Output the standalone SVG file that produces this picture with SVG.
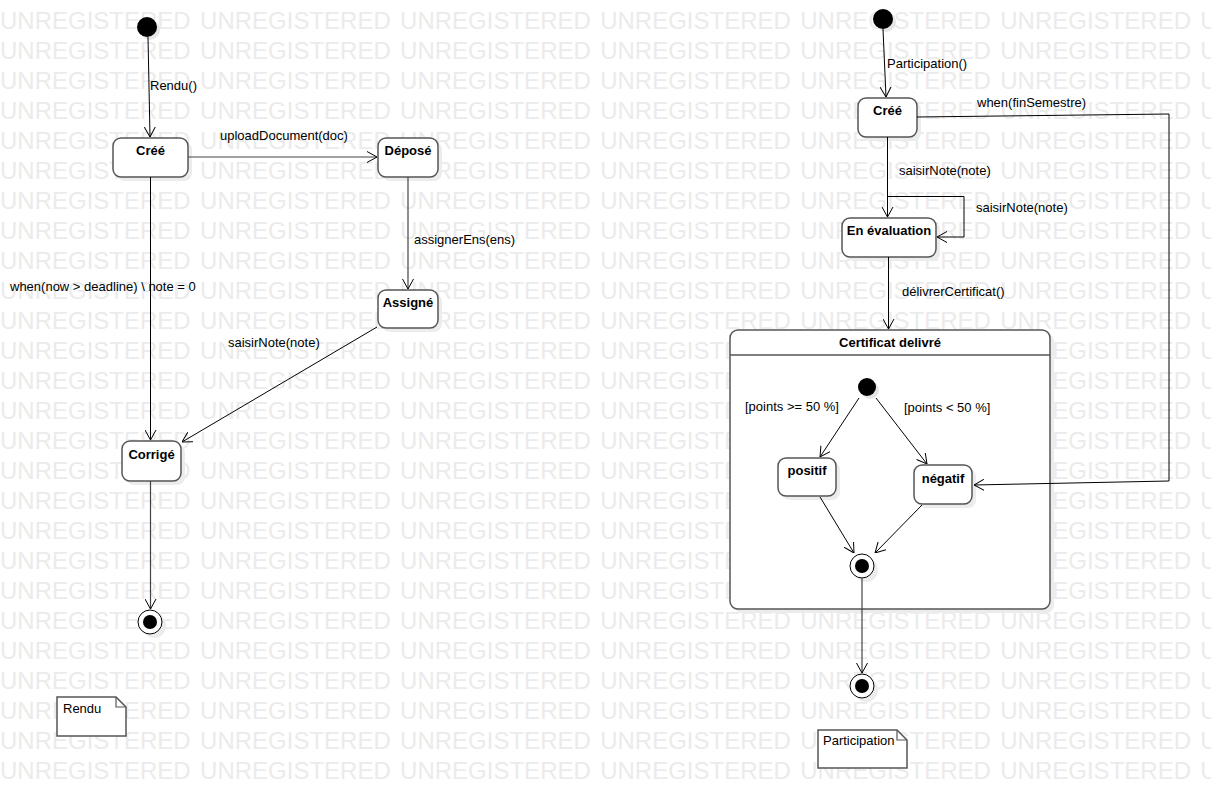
<svg xmlns="http://www.w3.org/2000/svg" width="1211" height="809" viewBox="0 0 1211 809">
<style>
.wm{font-family:"Liberation Sans",Arial,sans-serif;font-size:24px;fill:#ebebeb;word-spacing:2.7px}
.st{fill:#fff;stroke:#555;stroke-width:1.5}
.sh{fill:#ececec;stroke:none}
.nt{font-family:"Liberation Sans",Arial,sans-serif;font-size:13px;font-weight:bold;fill:#000;text-anchor:middle}
.lb{font-family:"Liberation Sans",Arial,sans-serif;font-size:13px;fill:#000}
.ln{fill:none;stroke:#000;stroke-width:1}
.ln2{fill:none;stroke:#444;stroke-width:1.2}
.note{fill:#fff;stroke:#555;stroke-width:1.5}
</style>
<defs>
<marker id="arr" viewBox="0 0 10 12" refX="10" refY="6" markerWidth="10" markerHeight="12" markerUnits="userSpaceOnUse" orient="auto">
<path d="M0,0.5 L10,6 L0,11.5" fill="none" stroke="#000" stroke-width="1"/>
</marker>
</defs>
<rect width="1211" height="809" fill="#fff"/>
<g id="watermark">
<text class="wm" x="0" y="29">UNREGISTERED UNREGISTERED UNREGISTERED UNREGISTERED UNREGISTERED UNREGISTERED UNREGISTERED</text>
<text class="wm" x="0" y="59">UNREGISTERED UNREGISTERED UNREGISTERED UNREGISTERED UNREGISTERED UNREGISTERED UNREGISTERED</text>
<text class="wm" x="0" y="89">UNREGISTERED UNREGISTERED UNREGISTERED UNREGISTERED UNREGISTERED UNREGISTERED UNREGISTERED</text>
<text class="wm" x="0" y="119">UNREGISTERED UNREGISTERED UNREGISTERED UNREGISTERED UNREGISTERED UNREGISTERED UNREGISTERED</text>
<text class="wm" x="0" y="149">UNREGISTERED UNREGISTERED UNREGISTERED UNREGISTERED UNREGISTERED UNREGISTERED UNREGISTERED</text>
<text class="wm" x="0" y="179">UNREGISTERED UNREGISTERED UNREGISTERED UNREGISTERED UNREGISTERED UNREGISTERED UNREGISTERED</text>
<text class="wm" x="0" y="209">UNREGISTERED UNREGISTERED UNREGISTERED UNREGISTERED UNREGISTERED UNREGISTERED UNREGISTERED</text>
<text class="wm" x="0" y="239">UNREGISTERED UNREGISTERED UNREGISTERED UNREGISTERED UNREGISTERED UNREGISTERED UNREGISTERED</text>
<text class="wm" x="0" y="269">UNREGISTERED UNREGISTERED UNREGISTERED UNREGISTERED UNREGISTERED UNREGISTERED UNREGISTERED</text>
<text class="wm" x="0" y="299">UNREGISTERED UNREGISTERED UNREGISTERED UNREGISTERED UNREGISTERED UNREGISTERED UNREGISTERED</text>
<text class="wm" x="0" y="329">UNREGISTERED UNREGISTERED UNREGISTERED UNREGISTERED UNREGISTERED UNREGISTERED UNREGISTERED</text>
<text class="wm" x="0" y="359">UNREGISTERED UNREGISTERED UNREGISTERED UNREGISTERED UNREGISTERED UNREGISTERED UNREGISTERED</text>
<text class="wm" x="0" y="389">UNREGISTERED UNREGISTERED UNREGISTERED UNREGISTERED UNREGISTERED UNREGISTERED UNREGISTERED</text>
<text class="wm" x="0" y="419">UNREGISTERED UNREGISTERED UNREGISTERED UNREGISTERED UNREGISTERED UNREGISTERED UNREGISTERED</text>
<text class="wm" x="0" y="449">UNREGISTERED UNREGISTERED UNREGISTERED UNREGISTERED UNREGISTERED UNREGISTERED UNREGISTERED</text>
<text class="wm" x="0" y="479">UNREGISTERED UNREGISTERED UNREGISTERED UNREGISTERED UNREGISTERED UNREGISTERED UNREGISTERED</text>
<text class="wm" x="0" y="509">UNREGISTERED UNREGISTERED UNREGISTERED UNREGISTERED UNREGISTERED UNREGISTERED UNREGISTERED</text>
<text class="wm" x="0" y="539">UNREGISTERED UNREGISTERED UNREGISTERED UNREGISTERED UNREGISTERED UNREGISTERED UNREGISTERED</text>
<text class="wm" x="0" y="569">UNREGISTERED UNREGISTERED UNREGISTERED UNREGISTERED UNREGISTERED UNREGISTERED UNREGISTERED</text>
<text class="wm" x="0" y="599">UNREGISTERED UNREGISTERED UNREGISTERED UNREGISTERED UNREGISTERED UNREGISTERED UNREGISTERED</text>
<text class="wm" x="0" y="629">UNREGISTERED UNREGISTERED UNREGISTERED UNREGISTERED UNREGISTERED UNREGISTERED UNREGISTERED</text>
<text class="wm" x="0" y="659">UNREGISTERED UNREGISTERED UNREGISTERED UNREGISTERED UNREGISTERED UNREGISTERED UNREGISTERED</text>
<text class="wm" x="0" y="689">UNREGISTERED UNREGISTERED UNREGISTERED UNREGISTERED UNREGISTERED UNREGISTERED UNREGISTERED</text>
<text class="wm" x="0" y="719">UNREGISTERED UNREGISTERED UNREGISTERED UNREGISTERED UNREGISTERED UNREGISTERED UNREGISTERED</text>
<text class="wm" x="0" y="749">UNREGISTERED UNREGISTERED UNREGISTERED UNREGISTERED UNREGISTERED UNREGISTERED UNREGISTERED</text>
<text class="wm" x="0" y="779">UNREGISTERED UNREGISTERED UNREGISTERED UNREGISTERED UNREGISTERED UNREGISTERED UNREGISTERED</text>
</g>

<!-- Left diagram nodes -->
<g id="init1"><circle cx="150" cy="30" r="10" fill="#e6e6e6"/><circle cx="147" cy="27" r="10" fill="#000"/></g>
<g id="cree1"><rect class="sh" x="117" y="142" width="75" height="39" rx="8"/><rect class="st" x="113" y="138" width="75" height="39" rx="8"/><text class="nt" x="150.5" y="155">Créé</text></g>
<g id="depose"><rect class="sh" x="382" y="142" width="60" height="39" rx="8"/><rect class="st" x="378" y="138" width="60" height="39" rx="8"/><text class="nt" x="408" y="155">Déposé</text></g>
<g id="assigne"><rect class="sh" x="382" y="294" width="60" height="38" rx="8"/><rect class="st" x="378" y="290" width="60" height="38" rx="8"/><text class="nt" x="408" y="307">Assigné</text></g>
<g id="corrige"><rect class="sh" x="126" y="445" width="59" height="40" rx="8"/><rect class="st" x="122" y="441" width="59" height="40" rx="8"/><text class="nt" x="151.5" y="459">Corrigé</text></g>
<g id="final1"><circle cx="154" cy="626" r="12" fill="#ececec"/><circle cx="150" cy="622" r="12" fill="#fff" stroke="#000" stroke-width="1"/><circle cx="150" cy="622" r="7" fill="#000"/></g>
<g id="noteRendu"><path class="note" d="M57,697 H116 L126,707 V736 H57 Z"/><path d="M116,697 V707 H126" fill="none" stroke="#555" stroke-width="1.2"/><text class="lb" x="63" y="713">Rendu</text></g>

<!-- Right diagram nodes -->
<g id="init2"><circle cx="886" cy="22" r="10" fill="#e6e6e6"/><circle cx="883" cy="19" r="10" fill="#000"/></g>
<g id="cree2"><rect class="sh" x="862" y="102" width="59" height="39" rx="8"/><rect class="st" x="858" y="98" width="59" height="39" rx="8"/><text class="nt" x="887.5" y="115">Créé</text></g>
<g id="evaluation"><rect class="sh" x="846" y="222" width="94" height="39" rx="8"/><rect class="st" x="842" y="218" width="94" height="39" rx="8"/><text class="nt" x="889" y="235">En évaluation</text></g>
<g id="certificat">
<rect class="sh" x="734" y="334" width="320" height="279" rx="8"/>
<rect class="st" x="730" y="330" width="320" height="279" rx="8"/>
<line x1="730" y1="355" x2="1050" y2="355" stroke="#555" stroke-width="1.5"/>
<text class="nt" x="890" y="347">Certificat delivré</text>
</g>
<g id="init3"><circle cx="870" cy="390" r="9" fill="#e6e6e6"/><circle cx="867" cy="387" r="9" fill="#000"/></g>
<g id="positif"><rect class="sh" x="782" y="462" width="58" height="38" rx="8"/><rect class="st" x="778" y="458" width="58" height="38" rx="8"/><text class="nt" x="807" y="475">positif</text></g>
<g id="negatif"><rect class="sh" x="918" y="469" width="58" height="39" rx="8"/><rect class="st" x="914" y="465" width="58" height="39" rx="8"/><text class="nt" x="943" y="483">négatif</text></g>
<g id="final2"><circle cx="866" cy="570" r="12" fill="#ececec"/><circle cx="862" cy="566" r="12" fill="#fff" stroke="#000" stroke-width="1"/><circle cx="862" cy="566" r="7" fill="#000"/></g>
<g id="final3"><circle cx="866" cy="690" r="12" fill="#ececec"/><circle cx="862" cy="686" r="12" fill="#fff" stroke="#000" stroke-width="1"/><circle cx="862" cy="686" r="7" fill="#000"/></g>
<g id="noteParticipation"><path class="note" d="M818,730 H897 L907,740 V768 H818 Z"/><path d="M897,730 V740 H907" fill="none" stroke="#555" stroke-width="1.2"/><text class="lb" x="823" y="745">Participation</text></g>

<!-- Connectors -->
<g id="connectors">
<line class="ln" x1="148" y1="37" x2="150" y2="137" marker-end="url(#arr)"/>
<text class="lb" x="150" y="90">Rendu()</text>
<line class="ln2" x1="188" y1="157" x2="377" y2="157" marker-end="url(#arr)"/>
<text class="lb" x="220" y="140">uploadDocument(doc)</text>
<line class="ln2" x1="408" y1="177" x2="408" y2="289" marker-end="url(#arr)"/>
<text class="lb" x="414" y="244">assignerEns(ens)</text>
<line class="ln" x1="377" y1="327" x2="182" y2="442" marker-end="url(#arr)"/>
<text class="lb" x="228" y="347">saisirNote(note)</text>
<line class="ln" x1="150.5" y1="177" x2="150.5" y2="440" marker-end="url(#arr)"/>
<text class="lb" x="10" y="291">when(now &gt; deadline) \ note = 0</text>
<line class="ln2" x1="150.5" y1="481" x2="150.5" y2="609" marker-end="url(#arr)"/>

<line class="ln" x1="883" y1="29" x2="886" y2="97" marker-end="url(#arr)"/>
<text class="lb" x="887" y="68">Participation()</text>
<polyline class="ln" points="917,117 1169,114 1169,481 974,485" marker-end="url(#arr)"/>
<text class="lb" x="977" y="107">when(finSemestre)</text>
<line class="ln" x1="887.5" y1="137" x2="887.5" y2="217" marker-end="url(#arr)"/>
<text class="lb" x="899" y="175">saisirNote(note)</text>
<polyline class="ln" points="888,196.5 964,196.5 964,237 937,237" marker-end="url(#arr)"/>
<text class="lb" x="976" y="212">saisirNote(note)</text>
<line class="ln" x1="888.5" y1="257" x2="888.5" y2="329" marker-end="url(#arr)"/>
<text class="lb" x="902" y="296">délivrerCertificat()</text>
<line class="ln" x1="859" y1="398" x2="820" y2="457" marker-end="url(#arr)"/>
<text class="lb" x="745" y="411">[points &gt;= 50 %]</text>
<line class="ln" x1="876" y1="398" x2="927" y2="464" marker-end="url(#arr)"/>
<text class="lb" x="904" y="412">[points &lt; 50 %]</text>
<line class="ln" x1="820" y1="497" x2="854" y2="553" marker-end="url(#arr)"/>
<line class="ln" x1="922" y1="505" x2="875" y2="553" marker-end="url(#arr)"/>
<line class="ln2" x1="862" y1="578" x2="862" y2="673" marker-end="url(#arr)"/>
</g>
</svg>
